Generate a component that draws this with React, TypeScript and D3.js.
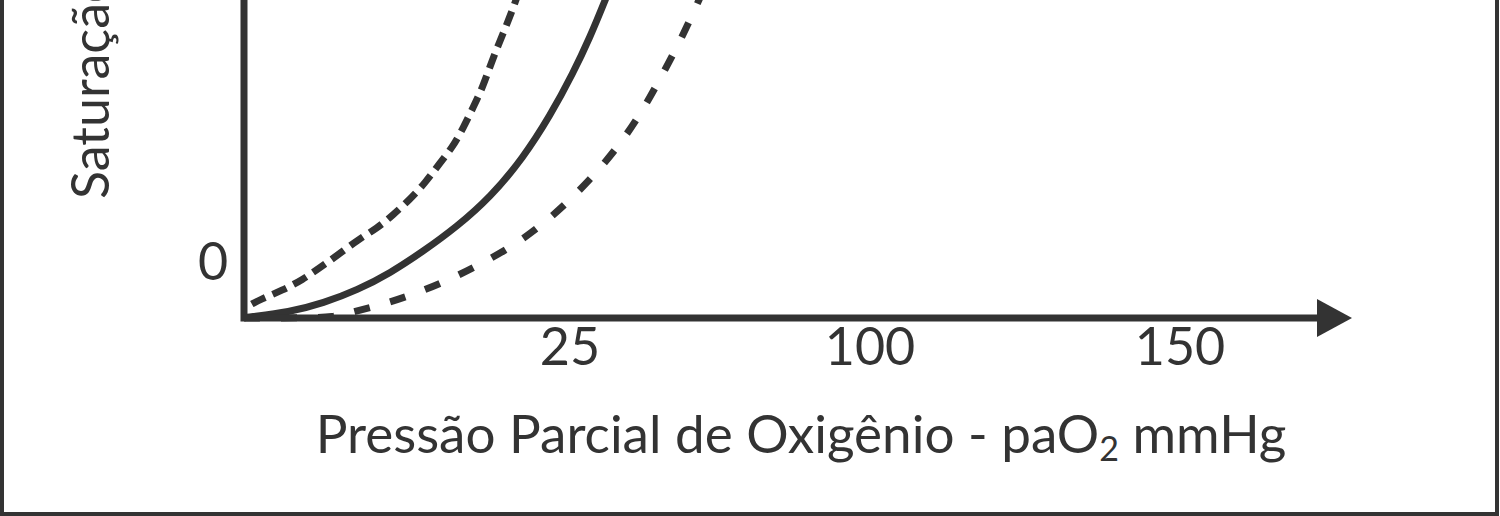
import React from "react";
import * as d3 from "d3";

// x ticks (schematic, non-uniform axis)
const xTickValues = [25, 100, 150];
const xTickLabels = ["25", "100", "150"];
const yTickLabels = ["0"];

// Normal curve (solid)
const normalPO2 = [0, 0.2, 3.5, 6.1, 8.7, 11.2, 13.7, 16.3, 18.9, 21.4, 23.5, 25.8, 30, 33.8, 37.5];
const normalSat = [0, 0.1, 0.9, 2.3, 4.3, 6.9, 10.2, 14.0, 18.6, 24.6, 31.2, 37.7, 43.2, 48.9, 54.6];

// Left-shifted curve (short dashes)
const leftPO2 = [0.6, 1.2, 3.0, 4.5, 5.8, 7.2, 8.7, 10.2, 11.4, 12.7, 13.9, 15.0, 16.0, 16.8, 17.6, 18.3, 18.9, 19.5, 20.2, 20.8, 21.5];
const leftSat = [2.15, 2.8, 4.3, 5.9, 7.7, 9.7, 12.0, 13.8, 15.8, 18.2, 20.8, 23.8, 26.3, 29.2, 32.5, 35.5, 38.9, 42.0, 45.4, 48.5, 52.8];

// Right-shifted curve (long dashes)
const rightPO2 = [0, 4.3, 7.0, 8.1, 10.8, 13.5, 16.2, 18.7, 21.2, 23.5, 26.75, 33.25, 39.25, 44.25, 48.75, 53, 56.75, 60.5];
const rightSat = [0, 0, 0.15, 0.8, 2.15, 4.0, 6.3, 8.9, 11.8, 15.4, 19.2, 23.5, 28.2, 33.1, 38.2, 43.2, 48.2, 53.5];

const xTitle = "Pressão Parcial de Oxigênio - paO";
const xTitleSub = "2";
const xTitleEnd = " mmHg";
const yTitle = "Saturação de O₂ da Hemoglobina (%)";

const INK = "#333333";
const FONT = "Lato, 'Open Sans', sans-serif";

export default function App() {
  const x = d3.scaleLinear().domain([0, 25, 100, 150]).range([244, 570, 870, 1180]);
  const y = d3.scaleLinear().domain([0, 100]).range([318, -332]);

  const line = d3
    .line<[number, number]>()
    .x((d) => x(d[0]))
    .y((d) => y(d[1]))
    .curve(d3.curveBasis);

  const zip = (a: number[], b: number[]) => a.map((v, i) => [v, b[i]] as [number, number]);

  const x0 = x(0);
  const y0 = y(0);
  const axisEnd = 1320;
  const arrowTip = 1352;

  return (
    <svg
      width={1500}
      height={516}
      style={{ position: "absolute", left: 0, top: 0, background: "#fff" }}
    >
      <rect x={2} y={-600} width={1495} height={1114} fill="#fff" stroke={INK} strokeWidth={4} />

      {/* curves */}
      <path d={line(zip(normalPO2, normalSat)) || ""} fill="none" stroke={INK} strokeWidth={7} />
      <path
        d={line(zip(leftPO2, leftSat)) || ""}
        fill="none"
        stroke={INK}
        strokeWidth={7}
        strokeDasharray="15 8"
      />
      <path
        d={line(zip(rightPO2, rightSat)) || ""}
        fill="none"
        stroke={INK}
        strokeWidth={7}
        strokeDasharray="16 21"
      />

      {/* axes */}
      <path
        d={`M${x0},-600 V${y0} H${axisEnd}`}
        fill="none"
        stroke={INK}
        strokeWidth={7}
        strokeLinejoin="miter"
      />
      <polygon
        points={`${axisEnd - 3},${y0 - 19} ${arrowTip},${y0} ${axisEnd - 3},${y0 + 19}`}
        fill={INK}
      />

      {/* tick labels */}
      {xTickValues.map((v, i) => (
        <text
          key={v}
          x={x(v)}
          y={y0 + 47}
          textAnchor="middle"
          fontFamily={FONT}
          fontSize={52}
          fill={INK}
        >
          {xTickLabels[i]}
        </text>
      ))}
      <text x={213} y={y0 - 38} textAnchor="middle" fontFamily={FONT} fontSize={52} fill={INK}>
        {yTickLabels[0]}
      </text>

      {/* axis titles */}
      <text x={801} y={453} textAnchor="middle" fontFamily={FONT} fontSize={53} fill={INK}>
        {xTitle}
        <tspan fontSize={34} dy={8}>{xTitleSub}</tspan>
        <tspan dy={-8}>{xTitleEnd}</tspan>
      </text>
      <text
        transform={`translate(109,199) rotate(-90)`}
        textAnchor="start"
        fontFamily={FONT}
        fontSize={52}
        fill={INK}
      >
        {yTitle}
      </text>
    </svg>
  );
}
